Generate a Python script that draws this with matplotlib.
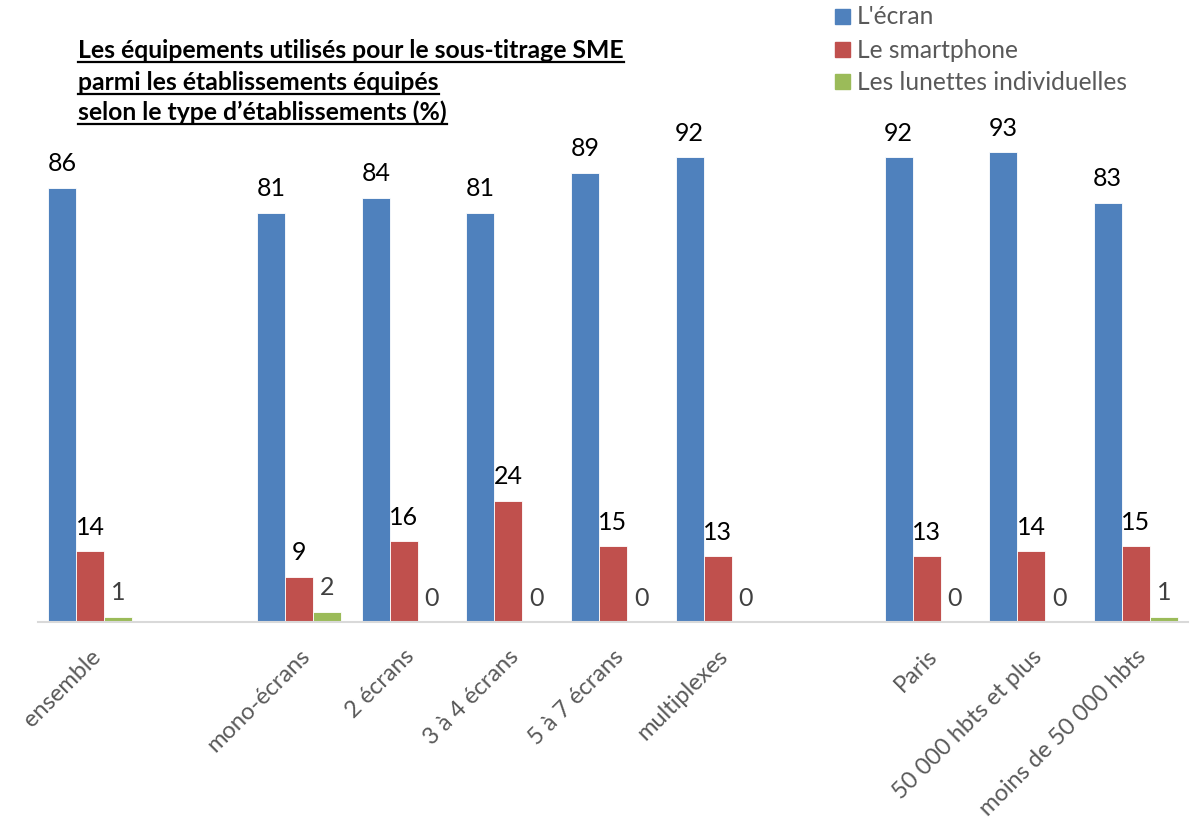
import matplotlib
matplotlib.use("Agg")
import matplotlib.pyplot as plt
from matplotlib.patches import Rectangle
from matplotlib.lines import Line2D
import numpy as np

plt.rcParams['font.family'] = ['Lato', 'DejaVu Sans']

categories = ["ensemble", "", "mono-écrans", "2 écrans", "3 à 4 écrans", "5 à 7 écrans",
              "multiplexes", "", "Paris", "50 000 hbts et plus", "moins de 50 000 hbts"]
ecran = [86, None, 81, 84, 81, 89, 92, None, 92, 93, 83]
smartphone = [14, None, 9, 16, 24, 15, 13, None, 13, 14, 15]
lunettes = [1, None, 2, 0, 0, 0, 0, None, 0, 0, 1]
series_names = ["L'écran", "Le smartphone", "Les lunettes individuelles"]
colors = ["#4F81BD", "#C0504D", "#9BBB59"]
title_lines = ["Les équipements utilisés pour le sous-titrage SME",
               "parmi les établissements équipés",
               "selon le type d’établissements (%)"]

W, H = 1191, 823
fig = plt.figure(figsize=(W / 100, H / 100), dpi=100)
ax = fig.add_axes([38 / W, (H - 622) / H, (1188 - 38) / W, (622 - 117) / H])

x = np.arange(len(categories))
bw = 0.268
label_colors = ["black", "black", "#404040"]
for i, (vals, col) in enumerate(zip([ecran, smartphone, lunettes], colors)):
    off = (i - 1) * bw
    for xi, v in zip(x, vals):
        if v is None:
            continue
        ax.bar(xi + off, v, width=bw, color=col, edgecolor="white", linewidth=0.6)
        ax.annotate(str(v), (xi + off, v), xytext=(0, 9), textcoords="offset points",
                    ha="center", va="bottom", fontsize=18, color=label_colors[i])

ax.set_xlim(-0.5, len(categories) - 0.5)
ax.set_ylim(0, 100)
ax.set_yticks([])
for s in ["top", "right", "left"]:
    ax.spines[s].set_visible(False)
ax.spines["bottom"].set_color("#D9D9D9")
ax.spines["bottom"].set_linewidth(1.5)
ax.set_xticks(x)
ax.set_xticklabels(categories, rotation=45, ha="right", va="top",
                   rotation_mode="anchor", fontsize=17, color="#595959")
ax.tick_params(axis="x", length=0, pad=17)

# title
ys = [58, 90, 120]
fig.canvas.draw()
renderer = fig.canvas.get_renderer()
for line, yb in zip(title_lines, ys):
    t = fig.text(78 / W, (H - yb) / H, line, fontsize=17.8, fontweight="bold",
                 color="black", ha="left", va="baseline")
    bb = t.get_window_extent(renderer=renderer)
    uy = (H - yb - 4) / H
    fig.add_artist(Line2D([bb.x0 / W, bb.x1 / W], [uy, uy], color="black",
                          linewidth=1.6, transform=fig.transFigure))

# legend
for name, col, yc in zip(series_names, colors, [17, 50, 82]):
    fig.add_artist(Rectangle((835 / W, (H - yc - 7) / H), 15 / W, 15 / H,
                             color=col, transform=fig.transFigure))
    fig.text(857 / W, (H - yc) / H, name, fontsize=17.7, color="#595959",
             ha="left", va="center")

fig.savefig("out.png", dpi=100)
